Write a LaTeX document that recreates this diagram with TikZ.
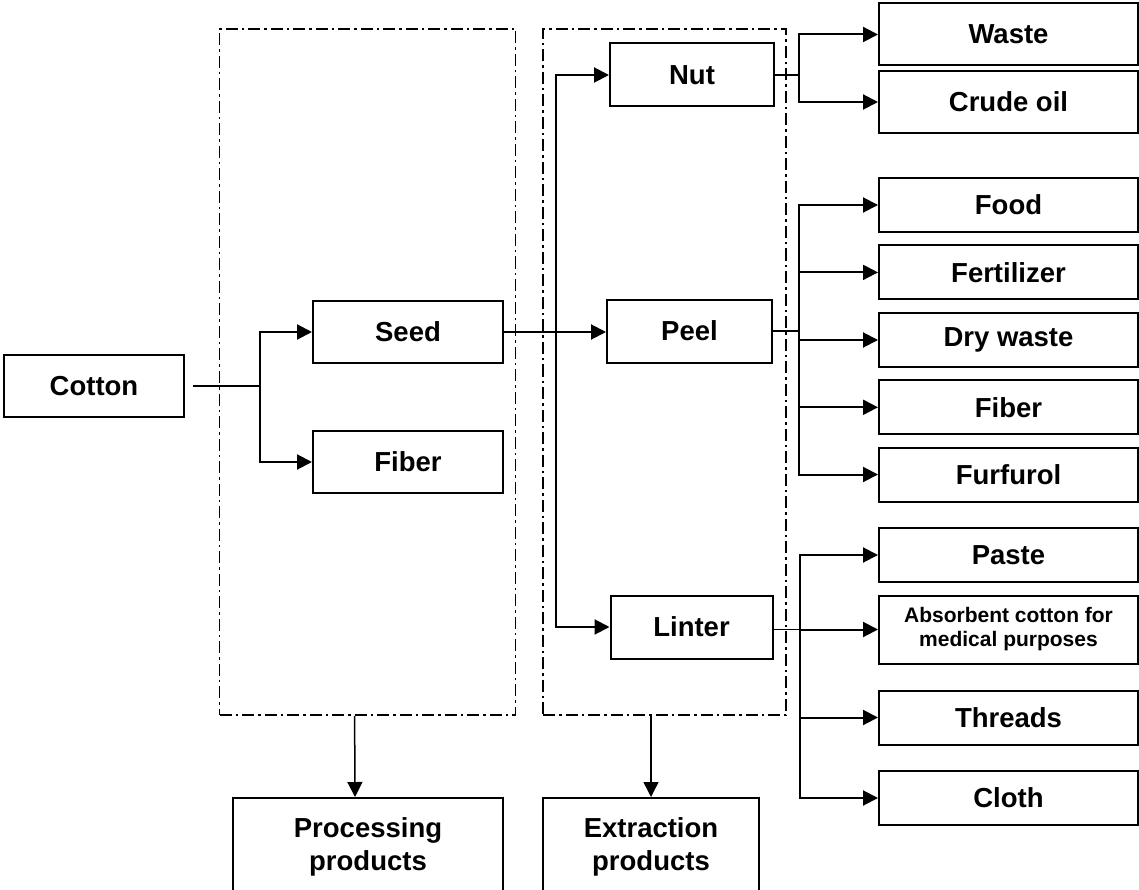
\documentclass[tikz,border=0pt]{standalone}
\usepackage{fontspec}
\setmainfont{Liberation Sans}
\usetikzlibrary{arrows.meta}
\tikzset{
	prod/.style={draw, line width=2pt, inner sep=0pt, align=center,
		font=\fontsize{27.5}{33}\selectfont\bfseries},
	group/.style={draw, line width=1.6pt, dash pattern=on 12pt off 4pt on 2.5pt off 4pt},
	arr/.style={line width=2pt, -{Triangle[length=15pt,width=15pt]}},
	link/.style={line width=1.3pt}
}
\begin{document}
\begin{tikzpicture}[x=1pt,y=-1pt]
		\useasboundingbox (0,0) rectangle (1139,890);
		\clip (0,0) rectangle (1139,890);
		%\draw[gray!50, thin, step=50] (0,0) grid (1139,890);
		% dash-dot frames
		\node[group, minimum width=296pt, minimum height=686pt] (procgrp) at (367.6,372) {};
		\node[group, minimum width=243pt, minimum height=686pt] (extrgrp) at (664.5,372) {};
		
		\node[prod, minimum width=180pt, minimum height=62pt] (cotton) at (94,386) {Cotton};
		\node[prod, minimum width=190pt, minimum height=62pt] (seed) at (408,332) {Seed};
		\node[prod, minimum width=190pt, minimum height=62pt] (fiber) at (408,462) {Fiber};
		\node[prod, minimum width=164pt, minimum height=63pt] (nut) at (692,75) {Nut};
		\node[prod, minimum width=165pt, minimum height=63pt] (peel) at (689.5,331) {Peel};
		\node[prod, minimum width=162pt, minimum height=63pt] (linter) at (691.5,627) {Linter};
		
		\node[prod, minimum width=259pt, minimum height=62pt] (waste) at (1008.5,34.5) {Waste};
		\node[prod, minimum width=259pt, minimum height=62pt] (crude) at (1008.5,102) {Crude oil};
		\foreach \nm/\yy/\txt in {food/205/Food, fert/272.4/Fertilizer, dry/340/Dry waste,
			fib/407.3/Fiber, furf/474.5/Furfurol, paste/555/Paste, threads/717.5/Threads, cloth/798/Cloth}
			\node[prod, minimum width=259pt, minimum height=54pt] (\nm) at (1008.5,\yy) {\txt};
		\node[prod, minimum width=259pt, minimum height=68pt, font=\fontsize{21}{24}\selectfont\bfseries] (absorb) at (1008.5,629.5) {Absorbent cotton for\\medical purposes};
		
		% bottom boxes run past the lower edge
		\node[prod, minimum width=270pt, minimum height=98pt] (proc) at (368,847) {Processing\\products};
		\node[prod, minimum width=216pt, minimum height=98pt] (ext) at (651,847) {Extraction\\products};
		
		% forks
		\coordinate (forkA) at (259.6,0);
		\coordinate (forkB) at (556,0);
		\coordinate (forkC) at (798.5,0);
		\coordinate (forkD) at (800,0);
		
		\draw[link] ([xshift=8pt]cotton.east) -- (cotton.east -| forkA);
		\draw[arr] (cotton.east -| forkA) |- (seed.west);
		\draw[arr] (cotton.east -| forkA) |- (fiber.west);
		
		\draw[link] (seed.east) -- (seed.east -| forkB);
		\draw[arr] (seed.east -| forkB) |- (nut.west);
		\draw[arr] (seed.east -| forkB) |- (linter.west);
		\draw[arr] (seed.east -| forkB) -- (seed.east -| peel.west);
		
		\draw[link] (nut.east) -- (nut.east -| forkC);
		\draw[arr] (nut.east -| forkC) |- (waste.west);
		\draw[arr] (nut.east -| forkC) |- (crude.west);
		
		\draw[link] (peel.east) -- (peel.east -| forkC);
		\foreach \t in {food,fert,dry,fib,furf} \draw[arr] (peel.east -| forkC) |- (\t.west);
		
		\draw[link] (linter.east |- absorb.west) -- (forkD |- absorb.west);
		\foreach \t in {paste,absorb,threads,cloth} \draw[arr] (forkD |- absorb.west) |- (\t.west);
		
		\draw[arr, line width=1.5pt] ([xshift=-13pt]procgrp.south) -- ([xshift=-13pt]proc.north);
		\draw[arr, line width=1.5pt] (extrgrp.south -| ext.north) -- (ext.north);
\end{tikzpicture}
\end{document}
